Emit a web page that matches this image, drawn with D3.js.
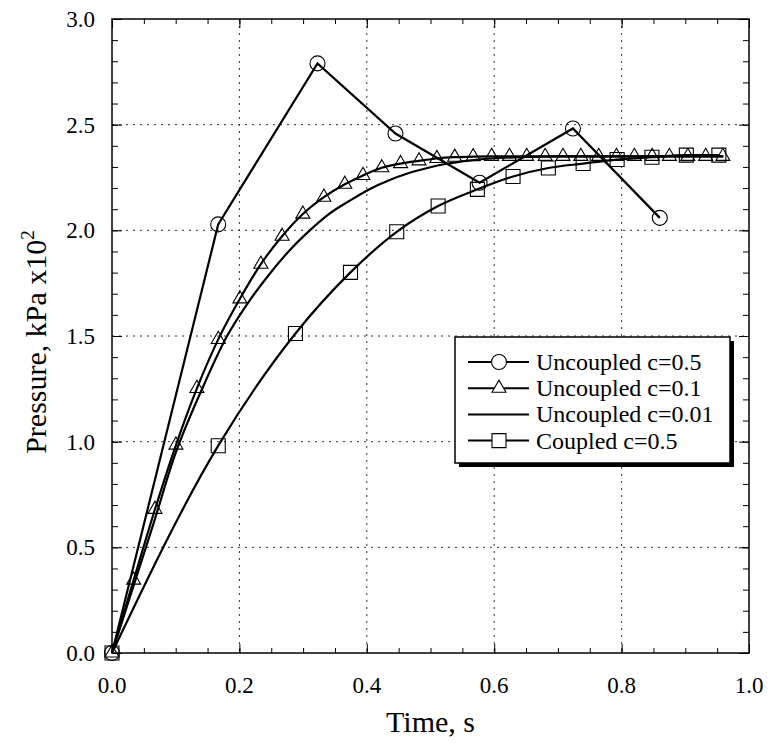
<!DOCTYPE html>
<html><head><meta charset="utf-8">
<script src="https://cdn.jsdelivr.net/npm/d3@7"></script>
<style>body{margin:0;background:#fff}svg{display:block}</style>
</head><body><div id="chart"></div>
<script>
// ---- data ----
const xTicks = [0, 0.2, 0.4, 0.6, 0.8, 1.0];
const yTicks = [0, 0.5, 1.0, 1.5, 2.0, 2.5, 3.0];
const seriesNames = ["Uncoupled c=0.5", "Uncoupled c=0.1", "Uncoupled c=0.01", "Coupled c=0.5"];

const unc05T = [0, 0.1667, 0.3226, 0.445, 0.577, 0.7236, 0.86];
const unc05P = [0, 2.028, 2.79, 2.458, 2.225, 2.482, 2.059];

const unc01T = [0, 0.034, 0.0675, 0.1004, 0.1333, 0.1668, 0.2008, 0.2337, 0.267, 0.2996, 0.3326, 0.3655,
  0.394, 0.4235, 0.453, 0.482, 0.51, 0.538, 0.567, 0.596, 0.624, 0.651, 0.68, 0.708, 0.736, 0.764,
  0.792, 0.82, 0.848, 0.875, 0.904, 0.932, 0.959];
const unc01P = [0, 0.345, 0.68, 0.984, 1.252, 1.484, 1.676, 1.84, 1.972, 2.077, 2.157, 2.218,
  2.26, 2.296, 2.316, 2.329, 2.34, 2.346, 2.349, 2.35, 2.35, 2.35, 2.35, 2.35, 2.35, 2.35,
  2.35, 2.35, 2.35, 2.35, 2.35, 2.35, 2.35];

const unc001T = [0, 0.033, 0.067, 0.096, 0.143, 0.18, 0.2165, 0.248, 0.279, 0.311, 0.342, 0.373, 0.405,
  0.435, 0.465, 0.495, 0.525, 0.56, 0.6, 0.65, 0.7, 0.8, 0.9, 0.96];
const unc001P = [0, 0.31, 0.63, 0.913, 1.26, 1.496, 1.67, 1.796, 1.906, 2.001, 2.08, 2.14, 2.196,
  2.237, 2.27, 2.295, 2.315, 2.33, 2.341, 2.347, 2.35, 2.35, 2.35, 2.35];

const cpl05T = [0, 0.1668, 0.288, 0.3744, 0.447, 0.512, 0.5736, 0.6296, 0.685, 0.7396, 0.793, 0.8476, 0.9016, 0.9527];
const cpl05P = [0, 0.981, 1.512, 1.801, 1.993, 2.115, 2.194, 2.255, 2.295, 2.316, 2.335, 2.346, 2.356, 2.356];

// ---- chart ----
const W = 768, H = 747;
const L = 112, R = 749, T = 19, B = 653;
const FONT = "'Liberation Serif', 'Times New Roman', Times, serif";
const svg = d3.select("#chart").append("svg").attr("width", W).attr("height", H)
  .attr("font-family", FONT);
const x = d3.scaleLinear().domain([0, 1]).range([L, R]);
const y = d3.scaleLinear().domain([0, 3]).range([B, T]);

// grid
const g = svg.append("g");
g.selectAll(".vg").data(xTicks.slice(1, -1)).join("line")
  .attr("x1", d => x(d)).attr("x2", d => x(d)).attr("y1", T).attr("y2", B)
  .attr("stroke", "#333").attr("stroke-width", 1).attr("stroke-dasharray", "2,5");
g.selectAll(".hg").data(yTicks.slice(1, -1)).join("line")
  .attr("y1", d => y(d)).attr("y2", d => y(d)).attr("x1", L).attr("x2", R)
  .attr("stroke", "#333").attr("stroke-width", 1).attr("stroke-dasharray", "2,5");

// axes with inward ticks on all sides
const xMinor = d3.range(0, 1.0001, 0.05);
const yMinor = d3.range(0, 3.0001, 0.1);
const fmt = d3.format(".1f");
function axisTicks(axis, ticks, size) {
  return axis.tickValues(ticks).tickSize(size).tickSizeOuter(0).tickFormat("");
}
svg.append("g").attr("transform", `translate(0,${B})`).call(axisTicks(d3.axisTop(x), xMinor, 5));
svg.append("g").attr("transform", `translate(0,${B})`).call(axisTicks(d3.axisTop(x), xTicks, 9));
svg.append("g").attr("transform", `translate(0,${T})`).call(axisTicks(d3.axisBottom(x), xMinor, 5));
svg.append("g").attr("transform", `translate(0,${T})`).call(axisTicks(d3.axisBottom(x), xTicks, 9));
svg.append("g").attr("transform", `translate(${L},0)`).call(axisTicks(d3.axisRight(y), yMinor, 6));
svg.append("g").attr("transform", `translate(${L},0)`).call(axisTicks(d3.axisRight(y), yTicks, 10));
svg.append("g").attr("transform", `translate(${R},0)`).call(axisTicks(d3.axisLeft(y), yMinor, 6));
svg.append("g").attr("transform", `translate(${R},0)`).call(axisTicks(d3.axisLeft(y), yTicks, 10));
svg.selectAll(".domain").remove();
svg.selectAll(".tick line").attr("stroke", "#000").attr("stroke-width", 1);

// frame
svg.append("rect").attr("x", L).attr("y", T).attr("width", R - L).attr("height", B - T)
  .attr("fill", "none").attr("stroke", "#000").attr("stroke-width", 1.5);

// tick labels
svg.selectAll(".xl").data(xTicks).join("text")
  .attr("x", d => x(d)).attr("y", 693).attr("text-anchor", "middle")
  .attr("font-family", FONT).attr("font-size", 23).attr("fill", "#000").text(d => fmt(d));
svg.selectAll(".yl").data(yTicks).join("text")
  .attr("x", 95).attr("y", d => y(d) + 8).attr("text-anchor", "end")
  .attr("font-family", FONT).attr("font-size", 23).attr("fill", "#000").text(d => fmt(d));

// axis titles
svg.append("text").attr("x", (L + R) / 2).attr("y", 732).attr("text-anchor", "middle")
  .attr("font-family", FONT).attr("font-size", 30).attr("fill", "#000").text("Time, s");
const yt = svg.append("text").attr("transform", `translate(46,${(T + B) / 2 + 6}) rotate(-90)`)
  .attr("text-anchor", "middle").attr("font-family", FONT).attr("font-size", 30).attr("fill", "#000");
yt.append("tspan").text("Pressure, kPa x10");
yt.append("tspan").attr("font-size", 19).attr("dy", -12).text("2");

// lines
const zip = (a, b) => a.map((t, i) => [t, b[i]]);
const lin = d3.line().x(d => x(d[0])).y(d => y(d[1]));
const smooth = d3.line().curve(d3.curveMonotoneX).x(d => x(d[0])).y(d => y(d[1]));
const s05 = zip(unc05T, unc05P), s01 = zip(unc01T, unc01P), s001 = zip(unc001T, unc001P), sc = zip(cpl05T, cpl05P);
const lg = svg.append("g").attr("fill", "none").attr("stroke", "#000").attr("stroke-width", 2.2);
lg.append("path").attr("d", lin(s05));
lg.append("path").attr("d", smooth(s01));
lg.append("path").attr("d", smooth(s001));
lg.append("path").attr("d", smooth(sc));

// markers
const sym = {
  circle: d3.symbol().type(d3.symbolCircle).size(Math.PI * 7.5 * 7.5),
  tri: d3.symbol().type(d3.symbolTriangle).size(85),
  sq: d3.symbol().type(d3.symbolSquare).size(14 * 14)
};
function markers(data, s) {
  svg.append("g").selectAll("path").data(data).join("path")
    .attr("transform", d => `translate(${x(d[0])},${y(d[1])})`)
    .attr("d", s).attr("fill", "none").attr("stroke", "#000").attr("stroke-width", 1.1);
}
markers(s05, sym.circle);
markers(s01, sym.tri);
markers(sc, sym.sq);

// legend
const lx = 455, ly = 337, lw = 275, lh = 126;
svg.append("rect").attr("x", lx + 4).attr("y", ly + 4).attr("width", lw).attr("height", lh).attr("fill", "#000");
svg.append("rect").attr("x", lx).attr("y", ly).attr("width", lw).attr("height", lh)
  .attr("fill", "#fff").attr("stroke", "#000").attr("stroke-width", 1.5);
const legSyms = [sym.circle, sym.tri, null, sym.sq];
seriesNames.forEach((name, i) => {
  const ry = 362 + i * 26.2;
  svg.append("line").attr("x1", 468).attr("x2", 529).attr("y1", ry).attr("y2", ry)
    .attr("stroke", "#000").attr("stroke-width", 2);
  if (legSyms[i]) {
    svg.append("path").attr("transform", `translate(499,${ry})`).attr("d", legSyms[i])
      .attr("fill", "#fff").attr("stroke", "#000").attr("stroke-width", 1.1);
  }
  svg.append("text").attr("x", 536).attr("y", ry + 8).attr("font-family", FONT)
    .attr("font-size", 24).attr("fill", "#000").text(name);
});
</script></body></html>
